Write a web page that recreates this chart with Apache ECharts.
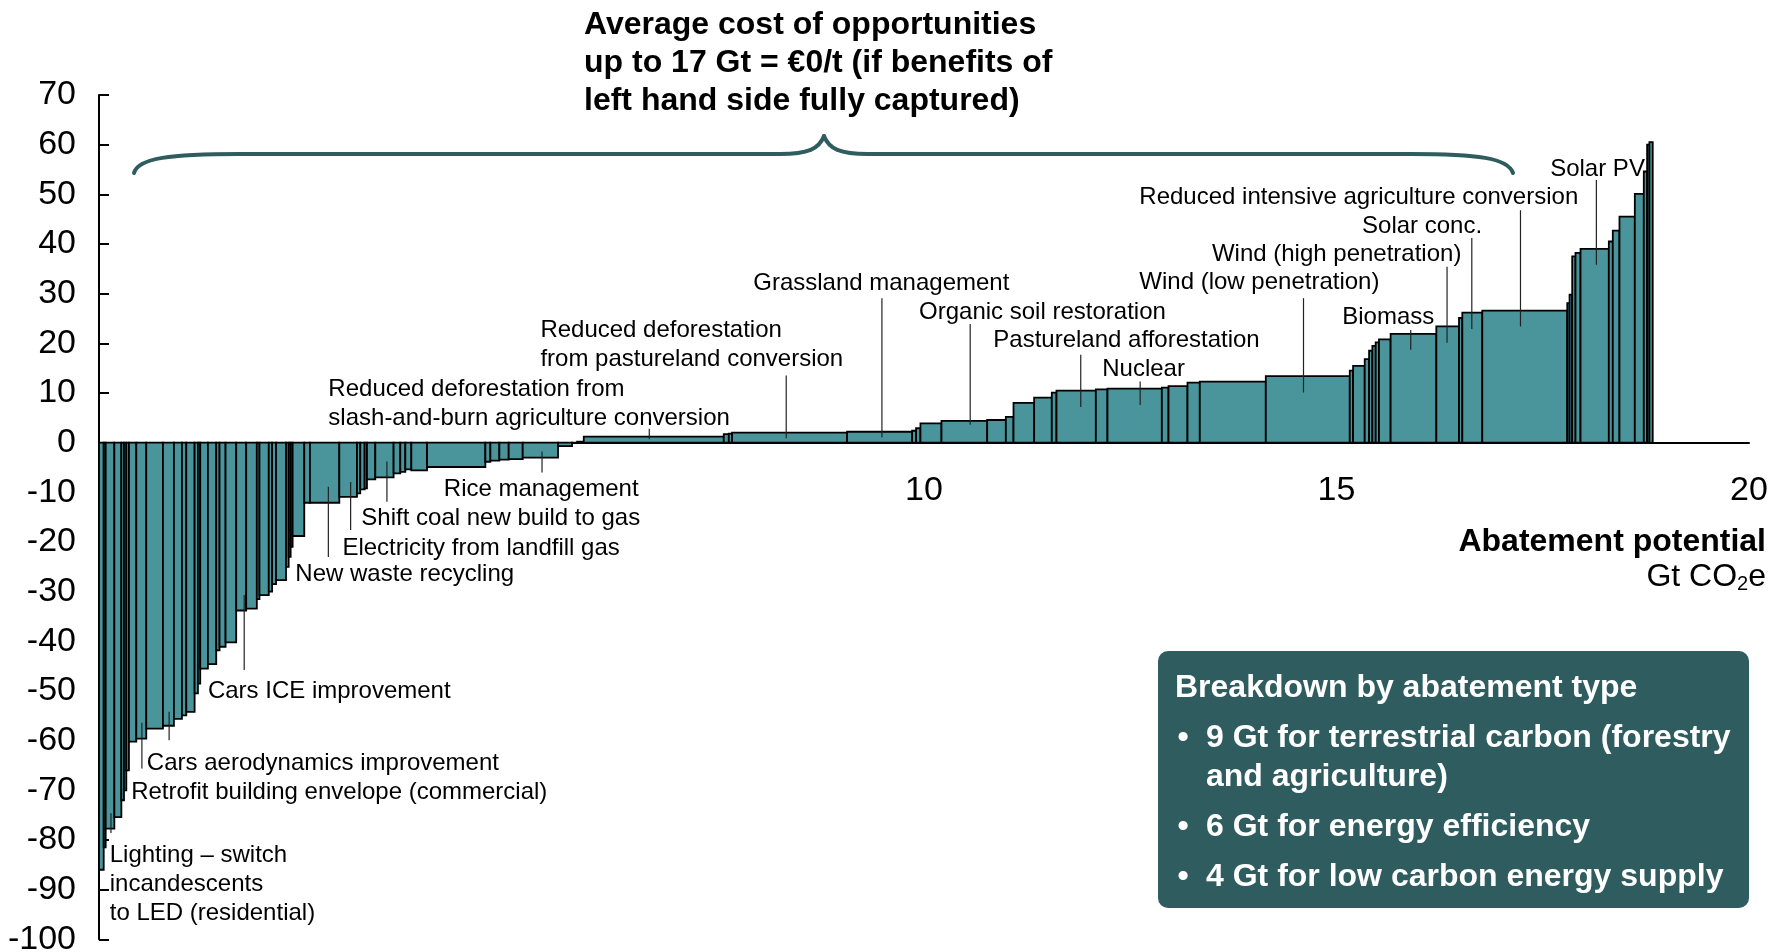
<!DOCTYPE html>
<html><head><meta charset="utf-8">
<script src="https://cdn.jsdelivr.net/npm/echarts@6/dist/echarts.min.js"></script>
<style>html,body{margin:0;padding:0;background:#fff}#c{width:1784px;height:952px}</style>
</head><body><div id="c"></div>
<script>
// Abatement potential of each lever (Gt CO2e), left to right
const widths = [
  0.057,0.024,0.105,0.085,0.032,0.028,0.032,0.089,0.121,0.202,
  0.133,0.097,0.053,0.101,0.040,0.028,0.093,0.101,0.040,0.073,
  0.129,0.121,0.129,0.032,0.113,0.040,0.048,0.121,0.032,0.024,
  0.024,0.141,0.069,0.356,0.214,0.040,0.053,0.028,0.101,0.222,
  0.081,0.061,0.073,0.190,0.707,0.061,0.109,0.113,0.170,0.428,
  0.170,0.061,
  0.081,1.697,0.061,0.040,1.394,0.788,0.048,0.053,0.255,0.554,
  0.226,0.093,0.250,0.214,0.057,0.477,0.141,0.659,0.081,0.230,
  0.149,0.800,1.018,0.040,0.141,0.053,0.040,0.040,0.040,0.141,
  0.554,0.275,0.040,0.242,1.030,0.028,0.032,0.040,0.061,0.343,
  0.048,0.081,0.186,0.109,0.040,0.028,0.040
];
// Abatement cost of each lever (EUR per t CO2e)
const costs = [
  -86,-81.5,-77.7,-75.4,-72,-70,-66,-60.2,-59.6,-57.6,
  -57.0,-55.6,-54.9,-54.2,-50.5,-48.5,-45.5,-44.6,-41.8,-41.1,
  -40.2,-33.8,-33.4,-31.5,-30.7,-30.0,-28.5,-27.7,-25,-23,
  -21,-18.8,-12.1,-12.1,-10.9,-10.2,-9.4,-9.2,-7.4,-7.0,
  -6.2,-5.9,-5.4,-5.6,-4.9,-3.85,-3.6,-3.4,-3.3,-3.0,
  -0.7,-0.1,
  0.2,1.2,1.7,1.8,2.0,2.2,2.4,2.9,3.9,4.4,
  4.56,5.2,8.0,9.05,10.06,10.46,10.74,10.87,11.07,11.4,
  12.08,12.3,13.4,14.5,15.45,16.8,18.5,19.5,20.2,20.8,
  21.9,23.4,25.1,26.2,26.6,28.1,29.8,37.5,38.2,39.0,
  40.5,42.7,45.5,50.1,54.6,60.0,60.5
];
const xTickLabels = [10, 15, 20];
const titleLines = ['Average cost of opportunities', 'up to 17 Gt = €0/t (if benefits of', 'left hand side fully captured)'];
const xAxisName = 'Abatement potential';
const xAxisUnit = '{a|Gt CO}{b|2}{a|e}';
const boxTitle = 'Breakdown by abatement type';
const boxItems = ['9 Gt for terrestrial carbon (forestry\nand agriculture)', '6 Gt for energy efficiency', '4 Gt for low carbon energy supply'];

// Lever callouts: text, text anchor [x, y] and leader line [x, yFrom, yTo] in data units
const callouts = [
  {t:'Solar PV', at:[17.59,55.5], ln:[18.15,52.9,35.8]},
  {t:'Reduced intensive agriculture conversion', at:[12.61,49.7], ln:[17.23,46.8,23.4]},
  {t:'Solar conc.', at:[15.31,44.0], ln:[16.64,41.2,22.9]},
  {t:'Wind (high penetration)', at:[13.49,38.3], ln:[16.34,35.4,20.1]},
  {t:'Biomass', at:[15.07,25.7], ln:[15.90,22.7,18.7]},
  {t:'Wind (low penetration)', at:[12.61,32.6], ln:[14.60,29.1,10.1]},
  {t:'Nuclear', at:[12.16,15.1], ln:[12.62,12.3,7.6]},
  {t:'Pastureland afforestation', at:[10.84,20.9], ln:[11.90,17.7,7.2]},
  {t:'Organic soil restoration', at:[9.94,26.6], ln:[10.56,23.9,3.6]},
  {t:'Grassland management', at:[7.93,32.4], ln:[9.49,29.1,1.1]},
  {t:'Reduced deforestation\nfrom pastureland conversion', at:[5.35,20.0], ln:[8.33,13.5,0.9]},
  {t:'Reduced deforestation from\nslash-and-burn agriculture conversion', at:[2.78,8.3], ln:[6.67,2.8,0.7]},
  {t:'Rice management', at:[4.18,-9.1], ln:[5.37,-1.8,-6.0]},
  {t:'Shift coal new build to gas', at:[3.18,-14.9], ln:[3.49,-3.8,-11.9]},
  {t:'Electricity from landfill gas', at:[2.95,-20.8], ln:[3.05,-7.9,-17.6]},
  {t:'New waste recycling', at:[2.38,-26.2], ln:[2.78,-8.9,-23.0]},
  {t:'Cars ICE improvement', at:[1.32,-49.7], ln:[1.76,-30.7,-45.8]},
  {t:'Cars aerodynamics improvement', at:[0.58,-64.1], ln:[0.85,-54.2,-59.9]},
  {t:'Retrofit building envelope (commercial)', at:[0.39,-70.0], ln:[0.52,-56.4,-65.6]},
  {t:'Lighting – switch\nincandescents\nto LED (residential)', at:[0.13,-88.6], ln:[0.145,-74.6,-78.6]}
];

const FONT = '"Liberation Sans", Arial, Helvetica, sans-serif';
const BAR = '#4A959B';
const DARK = '#2E5C5F';

// build [start, end, cost] from widths
const barData = [];
let acc = 0;
for (let i = 0; i < widths.length; i++) {
  barData.push([acc, acc + widths[i], costs[i]]);
  acc += widths[i];
}

const chart = echarts.init(document.getElementById('c'), null, {renderer: 'canvas'});
chart.setOption({
  animation: false,
  backgroundColor: '#fff',
  grid: {left: 99, right: 35, top: 95, bottom: 12.7, containLabel: false, outerBoundsMode: 'none'},
  xAxis: {
    type: 'value', min: 0, max: 20, interval: 5,
    axisLine: {onZero: true, lineStyle: {color: '#000', width: 2}},
    axisTick: {show: false},
    splitLine: {show: false},
    axisLabel: {show: false}
  },
  yAxis: {
    type: 'value', min: -100, max: 70, interval: 10,
    axisLine: {show: true, onZero: false, lineStyle: {color: '#000', width: 2}},
    axisTick: {show: true, inside: true, length: 10, lineStyle: {color: '#000', width: 2}},
    splitLine: {show: false},
    axisLabel: {margin: 23, fontSize: 34, color: '#000', fontFamily: FONT}
  },
  series: [{
    type: 'custom',
    data: barData,
    encode: {x: [0, 1], y: 2},
    renderItem: function (params, api) {
      const p0 = api.coord([api.value(0), 0]);
      const p1 = api.coord([api.value(1), api.value(2)]);
      return {
        type: 'rect',
        shape: {x: p0[0], y: Math.min(p0[1], p1[1]), width: p1[0] - p0[0], height: Math.abs(p1[1] - p0[1])},
        style: {fill: BAR, stroke: '#000', lineWidth: 1.8}
      };
    }
  }]
});

const px = (x, y) => chart.convertToPixel({gridIndex: 0}, [x, y]);
const g = [];

// x tick labels placed under the zero line
xTickLabels.forEach(v => {
  const p = px(v, 0);
  g.push({type: 'text', x: p[0], y: p[1] + 48, z: 10,
    style: {text: String(v), font: '34px ' + FONT, fill: '#000', align: 'center', verticalAlign: 'middle'}});
});

callouts.forEach(c => {
  const a = px(c.at[0], c.at[1]);
  const l0 = px(c.ln[0], c.ln[1]);
  const l1 = px(c.ln[0], c.ln[2]);
  g.push({type: 'line', shape: {x1: l0[0], y1: l0[1], x2: l1[0], y2: l1[1]},
    style: {stroke: '#222', lineWidth: 1.2}, z: 10});
  g.push({type: 'text', x: a[0], y: a[1] + 2, z: 11,
    style: {text: c.t, font: '24px ' + FONT, fill: '#000', align: 'left', verticalAlign: 'middle', lineHeight: 29}});
});

// brace
const braceStyle = {fill: null, stroke: DARK, lineWidth: 4, lineCap: 'round'};
g.push({type: 'bezierCurve', z: 10, shape: {x1: 134, y1: 173, cpx1: 138, cpy1: 158, cpx2: 170, cpy2: 154, x2: 240, y2: 154}, style: braceStyle});
g.push({type: 'line', z: 10, shape: {x1: 240, y1: 154, x2: 780, y2: 154}, style: braceStyle});
g.push({type: 'bezierCurve', z: 10, shape: {x1: 780, y1: 154, cpx1: 808, cpy1: 154, cpx2: 819, cpy2: 149, x2: 824, y2: 136}, style: braceStyle});
g.push({type: 'bezierCurve', z: 10, shape: {x1: 824, y1: 136, cpx1: 829, cpy1: 149, cpx2: 840, cpy2: 154, x2: 868, y2: 154}, style: braceStyle});
g.push({type: 'line', z: 10, shape: {x1: 868, y1: 154, x2: 1410, y2: 154}, style: braceStyle});
g.push({type: 'bezierCurve', z: 10, shape: {x1: 1410, y1: 154, cpx1: 1478, cpy1: 154, cpx2: 1508, cpy2: 158, x2: 1513, y2: 173}, style: braceStyle});

// title
g.push({type: 'text', x: 584, y: 6, z: 10,
  style: {text: titleLines.join('\n'), font: 'bold 32px ' + FONT, fill: '#000', lineHeight: 38, align: 'left', verticalAlign: 'top'}});

// axis name
g.push({type: 'text', x: 1766, y: 542, z: 10,
  style: {text: xAxisName, font: 'bold 32px ' + FONT, fill: '#000', align: 'right', verticalAlign: 'middle'}});
g.push({type: 'text', x: 1766, y: 577, z: 10,
  style: {text: xAxisUnit, align: 'right', verticalAlign: 'middle', fill: '#000',
    rich: {a: {fontSize: 32, fontFamily: FONT, color: '#000', lineHeight: 36},
           b: {fontSize: 20, fontFamily: FONT, color: '#000', lineHeight: 36, padding: [14, 0, 0, 0]}}}});

// breakdown box
g.push({type: 'rect', z: 10, shape: {x: 1158, y: 651, width: 591, height: 257, r: 10}, style: {fill: DARK}});
g.push({type: 'text', x: 1175, y: 688, z: 11,
  style: {text: boxTitle, font: 'bold 32px ' + FONT, fill: '#fff', align: 'left', verticalAlign: 'middle'}});
const itemY = [738, 827, 877];
boxItems.forEach((t, i) => {
  g.push({type: 'text', x: 1183, y: itemY[i], z: 11,
    style: {text: '•', font: 'bold 32px ' + FONT, fill: '#fff', align: 'center', verticalAlign: 'middle'}});
  g.push({type: 'text', x: 1206, y: itemY[i] - 19.5, z: 11,
    style: {text: t, font: 'bold 32px ' + FONT, fill: '#fff', align: 'left', verticalAlign: 'top', lineHeight: 39}});
});

chart.setOption({graphic: g});
</script>
</body></html>
